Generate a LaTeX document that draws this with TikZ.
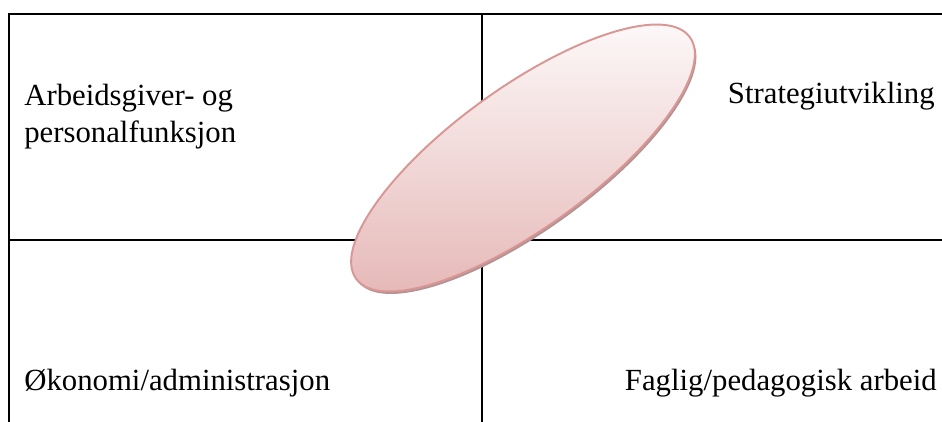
\documentclass[tikz,border=0pt]{standalone}
\usepackage{fontspec}
\setmainfont{Liberation Serif}
\usepackage{xcolor}
\usepackage{tikz}
\definecolor{ovalline}{HTML}{D99694}
\definecolor{ovaltop}{HTML}{FEFCFC}
\definecolor{ovalbot}{HTML}{E4B5B4}
\definecolor{ovalshade}{HTML}{B39393}
\tikzset{
  rule/.style       = {draw=black, line width=1.2pt},
  quad/.style       = {font=\fontsize{17.5}{21.6}\selectfont, inner sep=0pt, align=left},
  oval/.style       = {draw=ovalline, line width=1.1pt, top color=ovaltop, bottom color=ovalbot},
  ovalshadow/.style = {fill=ovalshade},
}
\begin{document}
\begin{tikzpicture}[x=0.02cm,y=-0.02cm]
  \useasboundingbox (0,0) rectangle (942,422);

  % cross
  \draw[rule] (942,14) -- (9,14) -- (9,422);
  \draw[rule] (9,240) -- (942,240);
  \draw[rule] (482,14) -- (482,422);

  % oval
  \fill[ovalshadow, shift={(1.5,2.5)}, rotate around={35.9:(523,158)}] (523,158) ellipse [x radius=206, y radius=70];
  \draw[oval, rotate around={35.9:(523,158)}] (523,158) ellipse [x radius=206, y radius=70];

  % quadrants
  \node[quad, anchor=base west] (hr) at (24,143) {Arbeidsgiver- og\\personalfunksjon};
  \node[quad, anchor=base east] (strat) at (935,104) {Strategiutvikling};
  \node[quad, anchor=base west] (econ) at (24,390) {Økonomi/administrasjon};
  \node[quad, anchor=base east] (ped) at (937,390) {Faglig/pedagogisk arbeid};
\end{tikzpicture}
\end{document}
